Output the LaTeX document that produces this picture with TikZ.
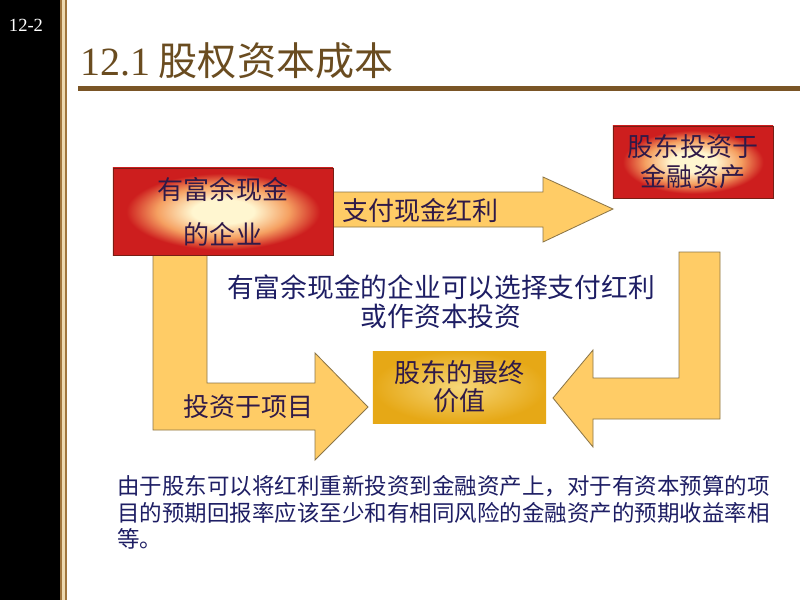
\documentclass[tikz,border=0pt]{standalone}
\usepackage{fontspec}
\setmainfont{Liberation Serif}
\newfontfamily\cjk{Noto Sans CJK SC}
\usepackage{tikz}
\usetikzlibrary{calc, positioning}
\definecolor{arrowfill}{RGB}{255,204,102}
\definecolor{arrowline}{RGB}{140,118,72}
\definecolor{boxred}{RGB}{205,30,30}
\definecolor{boxcream}{RGB}{255,246,208}
\definecolor{boxline}{RGB}{120,30,20}
\definecolor{goldout}{RGB}{230,168,22}
\definecolor{goldin}{RGB}{246,214,120}
\definecolor{inktext}{RGB}{48,26,72}
\definecolor{navytext}{RGB}{30,30,100}
\definecolor{titlebrown}{RGB}{106,76,32}
\definecolor{rulebrown}{RGB}{122,85,38}
\definecolor{stripcream}{RGB}{238,218,176}
\definecolor{stripline}{RGB}{160,118,62}
\pgfdeclareradialshading{redglow}{\pgfpoint{0cm}{0cm}}{color(0bp)=(boxcream); color(7bp)=(boxcream); color(15bp)=(boxcream!55!orange!80!boxred); color(22bp)=(boxred); color(50bp)=(boxred)}
\tikzstyle{redbox} = [rectangle, draw=boxline, line width=0.6pt, shading=redglow, text=inktext, align=center, font=\cjk\fontsize{18.5}{22}\selectfont]
\tikzstyle{goldbox} = [rectangle, shading=radial, inner color=goldin, outer color=goldout, text=inktext, align=center, font=\cjk\fontsize{18.5}{22}\selectfont]
\tikzstyle{fatarrow} = [fill=arrowfill, draw=arrowline, line width=0.6pt, line join=miter]
\tikzstyle{arrowlabel} = [inner sep=0pt, text=inktext, font=\cjk\fontsize{18.5}{22}\selectfont]
\tikzstyle{midtext} = [inner sep=0pt, text=navytext, align=center, font=\cjk\fontsize{19}{22}\selectfont]
\tikzstyle{notetext} = [inner sep=0pt, text=navytext, align=left, font=\cjk\fontsize{16}{18.7}\selectfont]
\begin{document}
\begin{tikzpicture}[x=0.025cm, y=-0.025cm]
		\useasboundingbox (0,0) rectangle (800,600);
		\fill[white] (0,0) rectangle (800,600);
		% side strip and heading
		\fill[black] (0,0) rectangle (60,600);
		\fill[stripcream] (60,0) rectangle (67,600);
		\draw[stripline, line width=0.8pt] (61,0) -- (61,600) (66,0) -- (66,600);
		\node (SlideNo) [text=white, font=\fontsize{13.2}{14}\selectfont] at (26,25) {12-2};
		\node (Title) [anchor=base west, inner sep=0pt, text=titlebrown] at (80,75) {\fontsize{28.5}{30}\selectfont 12.1\hspace{6pt}{\cjk\fontsize{27.8}{30}\selectfont 股权资本成本}};
		\draw[rulebrown, line width=0.7pt] (78,86) -- (800,86);
		\draw[rulebrown, line width=2.2pt] (78,89) -- (800,89);

		\coordinate (PayTip) at (613,209);
		\coordinate (ProjTip) at (368,407);
		\coordinate (HolderTip) at (553,398);

		\draw[fatarrow] (325,192) -- (543,192) -- (543,177) -- (PayTip) -- (543,242) -- (543,227) -- (325,227) -- cycle;
		\draw[fatarrow] (153,250) -- (207,250) -- (207,383) -- (315,383) -- (315,353) -- (ProjTip) -- (315,460) -- (315,430) -- (153,430) -- cycle;
		\draw[fatarrow] (679,252) -- (720,252) -- (720,419) -- (593,419) -- (593,447) -- (HolderTip) -- (593,350) -- (593,378) -- (679,378) -- cycle;

		\node (Firm) [redbox, minimum width=5.5cm, minimum height=2.175cm] at (223,211.5) {有富余现金\\[10pt]的企业};
		\node (Holder) [redbox, minimum width=4cm, minimum height=1.8cm] at (693,162) {股东投资于\\[-0.5pt]金融资产};
		\node (Final) [goldbox, minimum width=4.325cm, minimum height=1.8cm] at (459.5,387) {股东的最终\\[-2pt]价值};

		\node (PayLabel) [arrowlabel, anchor=west] at (342,211) {支付现金红利};
		\node (ProjLabel) [arrowlabel, anchor=west] at (183,407) {投资于项目};
		\node (Choice) [midtext] at (441,301.5) {有富余现金的企业可以选择支付红利\\[-1pt]或作资本投资};

		\node (Note) [notetext, anchor=west] at (117,512.5) {由于股东可以将红利重新投资到金融资产上，对于有资本预算的项\\目的预期回报率应该至少和有相同风险的金融资产的预期收益率相\\等。};
\end{tikzpicture}
\end{document}
